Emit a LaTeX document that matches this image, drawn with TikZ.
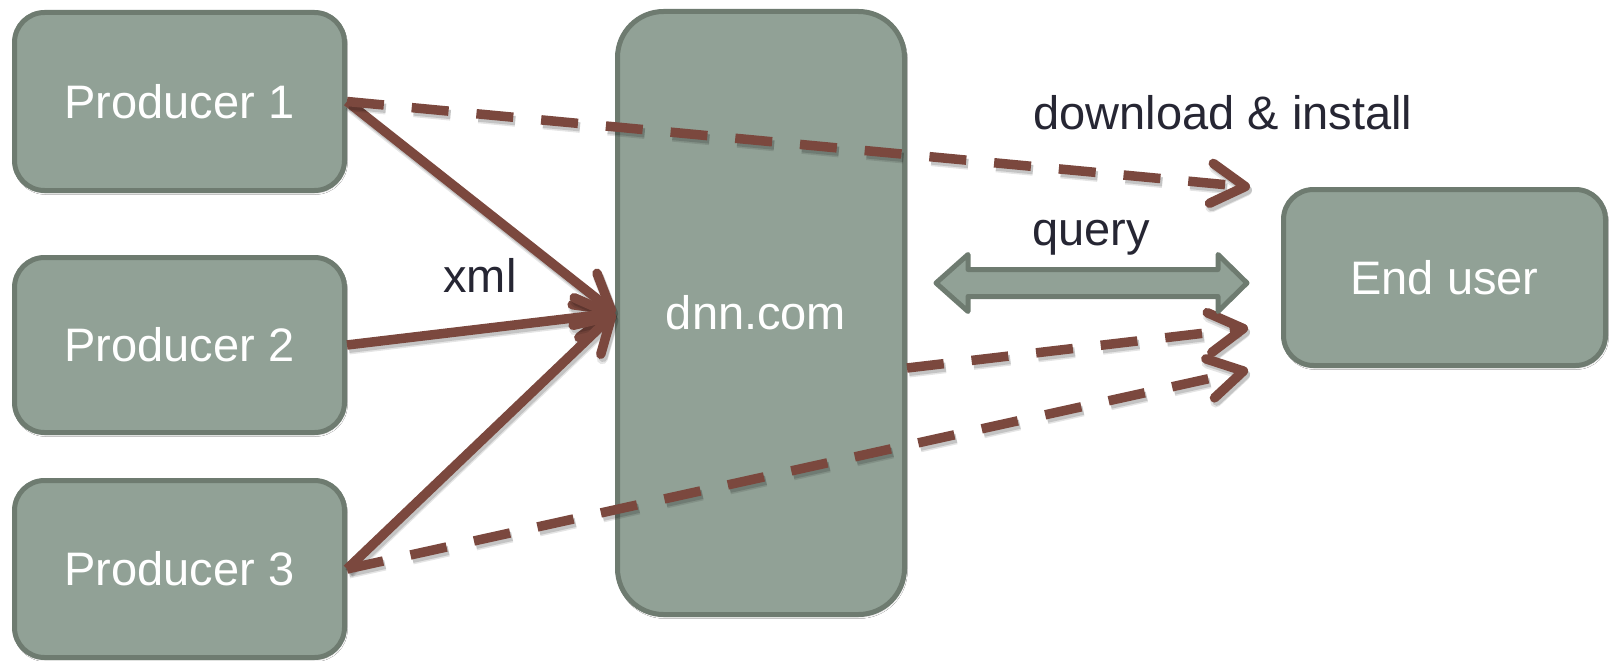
\documentclass[tikz,border=0pt]{standalone}
\usepackage{fontspec}
\setmainfont{Liberation Sans}
\usetikzlibrary{arrows.meta,shadows.blur}
\definecolor{boxfill}{RGB}{145,161,150}
\definecolor{boxline}{RGB}{110,123,112}
\definecolor{arrowbrown}{RGB}{123,72,62}
\definecolor{labeltext}{RGB}{38,38,51}
\begin{document}
\begin{tikzpicture}[x=1pt,y=-1pt,
  bigfont/.style={font=\fontsize{47}{56}\selectfont},
  box/.style={draw=boxline, fill=boxfill, line width=5pt, rounded corners=30pt,
    text=white, bigfont, inner sep=0pt,
    blur shadow={shadow xshift=1pt, shadow yshift=-2pt, shadow blur radius=2pt, shadow opacity=25}},
  lbl/.style={text=labeltext, bigfont, inner sep=0pt, anchor=base},
  tipstyle/.style={-{Straight Barb[length=34pt,width=40pt,round]}},
  solidarrow/.style={draw=arrowbrown, line width=9.5pt, tipstyle,
    preaction={draw=black, opacity=0.1, line width=11pt, tipstyle,
      transform canvas={shift={(2pt,-4pt)}}},
    preaction={draw=black, opacity=0.14, line width=9pt, tipstyle,
      transform canvas={shift={(2pt,-3.5pt)}}}},
  dasharrow/.style={draw=arrowbrown, line width=9.5pt, tipstyle, dash pattern=on 37pt off 28pt,
    preaction={draw=black, opacity=0.1, line width=11pt, tipstyle, dash pattern=on 37pt off 28pt,
      transform canvas={shift={(2pt,-4pt)}}},
    preaction={draw=black, opacity=0.14, line width=9pt, tipstyle, dash pattern=on 37pt off 28pt,
      transform canvas={shift={(2pt,-3.5pt)}}}},
  blockarrow/.style={draw=boxline, fill=boxfill, line width=5pt, line join=round},
]
\useasboundingbox (0,0) rectangle (1612,661);
\fill[white] (0,0) rectangle (1612,661);

\node[box, minimum width=330pt, minimum height=178pt] (p1) at (179.5,101.5) {Producer 1};
\node[box, minimum width=330pt, minimum height=175pt] (p2) at (179.5,345) {Producer 2};
\node[box, minimum width=330pt, minimum height=177pt] (p3) at (179.5,569) {Producer 3};
\node[box, rounded corners=46pt, minimum width=287pt, minimum height=603pt] (dnn) at (761,313) {\hspace*{-10pt}dnn.com};
\node[box, minimum width=322pt, minimum height=176pt] (eu) at (1444.5,277.5) {End user};

\coordinate (t1) at (1250,187);
\coordinate (t2) at (1248,328);
\coordinate (t3) at (1248,370);

\draw[solidarrow] (p1.east) -- (dnn.west);
\draw[solidarrow] (p2.east) -- (dnn.west);
\draw[solidarrow] (p3.east) -- (dnn.west);

\draw[dasharrow] (p1.east) -- (t1);
\draw[dasharrow] ([yshift=-55pt]dnn.east) -- (t2);
\draw[dasharrow] (p3.east) -- (t3);

\draw[blockarrow] (936,283) -- (968,254.5) -- (968,269.5) -- (1218,269.5) -- (1218,254.5)
  -- (1247,283) -- (1218,311.5) -- (1218,296.5) -- (968,296.5) -- (968,311.5) -- cycle;

\node[lbl] (l1) at (1223,129.5) {download \& install};
\node[lbl] (l2) at (1091,245) {query};
\node[lbl] (l3) at (480,292) {xml};
\end{tikzpicture}
\end{document}
